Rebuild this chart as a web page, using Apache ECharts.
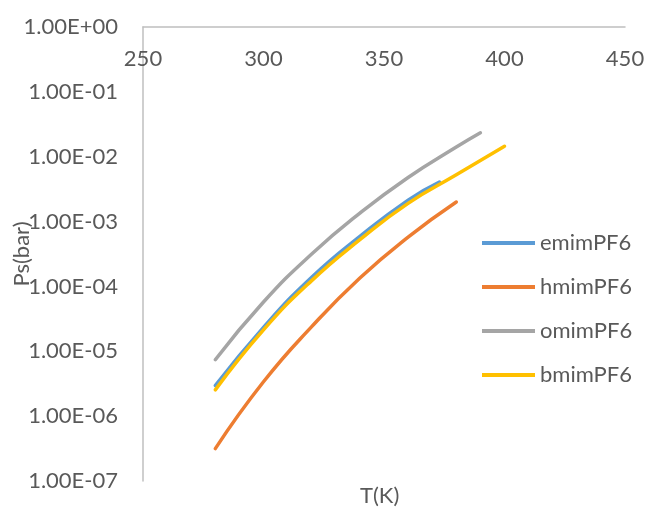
<!DOCTYPE html>
<html>
<head>
<meta charset="utf-8">
<script src="https://cdn.jsdelivr.net/npm/echarts@6/dist/echarts.min.js"></script>
<style>html,body{margin:0;padding:0;background:#fff}#c{width:645px;height:510px}</style>
</head>
<body>
<div id="c"></div>
<script>
// Temperatures (K) and saturation pressures (bar)
const seriesNames = ['emimPF6', 'hmimPF6', 'omimPF6', 'bmimPF6'];
const emimT = [280, 300, 320, 340, 360, 373];
const emimP = [2.95e-6, 2.34e-5, 1.38e-4, 5.89e-4, 2.14e-3, 4.07e-3];
const hmimT = [280, 300, 320, 340, 360, 380];
const hmimP = [3.16e-7, 3.39e-6, 2.40e-5, 1.35e-4, 5.75e-4, 2.0e-3];
const omimT = [280, 300, 320, 340, 360, 380, 390];
const omimP = [7.41e-6, 5.75e-5, 3.16e-4, 1.35e-3, 4.79e-3, 1.41e-2, 2.34e-2];
const bmimT = [280, 300, 320, 340, 360, 380, 400];
const bmimP = [2.54e-6, 2.14e-5, 1.23e-4, 5.25e-4, 1.91e-3, 5.25e-3, 1.45e-2];
const xTicks = [250, 300, 350, 400, 450];
const yAxisName = 'Ps(bar)';
const xAxisName = 'T(K)';

const colors = ['#5B9BD5', '#ED7D31', '#A5A5A5', '#FFC000'];
const FONT = 'Lato';
const FS = 22;
const TXT = '#595959';

function pairs(t, p) { return t.map((v, i) => [v, p[i]]); }
const allData = [pairs(emimT, emimP), pairs(hmimT, hmimP), pairs(omimT, omimP), pairs(bmimT, bmimP)];

function fmtE(v) {
  const e = Math.round(Math.log10(v));
  return '1.00E' + (e >= 0 ? '+' : '-') + String(Math.abs(e)).padStart(2, '0');
}

const chart = echarts.init(document.getElementById('c'), null, {renderer: 'canvas'});
chart.setOption({
  animation: false,
  color: colors,
  textStyle: {fontFamily: FONT},
  grid: {left: 143, top: 27, right: 20, bottom: 29, containLabel: false, outerBoundsMode: 'none'},
  xAxis: {
    type: 'value', position: 'top',
    min: xTicks[0], max: xTicks[xTicks.length - 1], interval: 50,
    axisLine: {show: true, onZero: false, lineStyle: {color: '#bfbfbf', width: 1.5}},
    axisTick: {show: false},
    splitLine: {show: false},
    axisLabel: {inside: true, margin: 21, color: TXT, fontSize: FS, fontFamily: FONT}
  },
  yAxis: {
    type: 'log', logBase: 10, min: 1e-7, max: 1,
    axisLine: {show: true, onZero: false, lineStyle: {color: '#bfbfbf', width: 1.5}},
    axisTick: {show: false},
    splitLine: {show: false},
    minorSplitLine: {show: false},
    axisLabel: {margin: 25, color: TXT, fontSize: FS, fontFamily: FONT, formatter: fmtE},
    name: yAxisName, nameLocation: 'middle', nameGap: 110, nameRotate: 90,
    nameMoveOverlap: false,
    nameTextStyle: {color: TXT, fontSize: FS, fontFamily: FONT}
  },
  legend: {
    orient: 'vertical', left: 482, top: 232, padding: 0,
    itemWidth: 53, itemHeight: 4, itemGap: 22,
    icon: 'rect',
    textStyle: {color: TXT, fontSize: FS, fontFamily: FONT, padding: [0, 0, 0, 0]},
    data: seriesNames
  },
  graphic: [{
    type: 'text', left: 360, top: 485,
    style: {text: xAxisName, fill: TXT, font: FS + 'px ' + FONT}
  }],
  series: seriesNames.map((n, i) => ({
    name: n, type: 'line', data: allData[i], smooth: true,
    showSymbol: false, symbol: 'none',
    lineStyle: {width: 3.5, color: colors[i], cap: 'round'},
    z: 2 + i
  }))
});
</script>
</body>
</html>
